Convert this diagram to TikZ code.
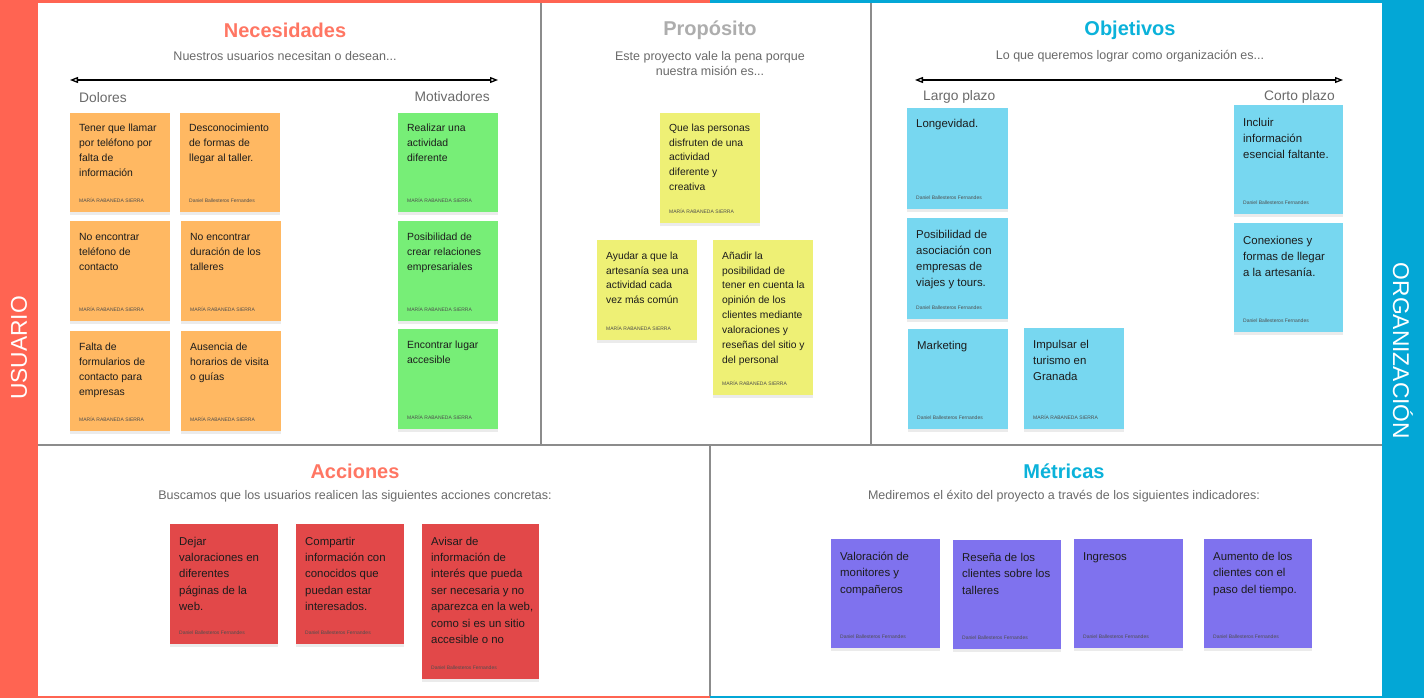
\documentclass[tikz,border=0pt]{standalone}
\usepackage{fontspec}
\setmainfont{Liberation Sans}
\usetikzlibrary{arrows.meta,shadows}
\definecolor{usred}{HTML}{FF6452}
\definecolor{titlered}{HTML}{FF7663}
\definecolor{orgblue}{HTML}{03A7D6}
\definecolor{titleblue}{HTML}{0BB2DA}
\definecolor{titlegray}{HTML}{ADADAD}
\definecolor{subgray}{HTML}{6A6A6A}
\definecolor{divgray}{HTML}{8C8C8C}
\definecolor{cOrange}{HTML}{FFB862}
\definecolor{cGreen}{HTML}{77EE77}
\definecolor{cYellow}{HTML}{EEF075}
\definecolor{cBlue}{HTML}{77D7F0}
\definecolor{cRed}{HTML}{E24849}
\definecolor{cPurple}{HTML}{7F72EE}
\definecolor{ink}{HTML}{1C1C1C}
\definecolor{footgray}{HTML}{4E4E4E}
\tikzset{
  cardbox/.style={inner sep=0pt, draw=none, drop shadow={shadow xshift=0pt, shadow yshift=-2.5pt, opacity=0.08, fill=black}},
  card-o/.style={fill=cOrange}, card-g/.style={fill=cGreen}, card-y/.style={fill=cYellow},
  card-b/.style={fill=cBlue}, card-r/.style={fill=cRed}, card-p/.style={fill=cPurple},
  cardtext/.style={inner sep=0pt, align=left, text=ink},
  text-o/.style={font={\fontsize{10.4}{15}\selectfont}},
  text-g/.style={font={\fontsize{10.4}{15}\selectfont}},
  text-y/.style={font={\fontsize{10.3}{14.9}\selectfont}},
  text-b/.style={font={\fontsize{11.4}{16}\selectfont}},
  text-r/.style={font={\fontsize{11.4}{16.4}\selectfont}},
  text-p/.style={font={\fontsize{11.4}{16.5}\selectfont}},
  footer/.style={inner sep=0pt, text=footgray, font={\fontsize{5}{6}\selectfont}},
  title/.style={font={\fontsize{20}{24}\selectfont\bfseries}},
  subtitle/.style={text=subgray, align=center, font={\fontsize{12.5}{15}\selectfont}},
  sidelabel/.style={inner sep=0pt, text=subgray, font={\fontsize{13.8}{16}\selectfont}},
  bandlabel/.style={text=white, font={\fontsize{22.8}{26}\selectfont}},
  divider/.style={draw=divgray, line width=1.5pt},
  axis/.style={line width=1.3pt, {Triangle[open,length=8pt,width=6pt]}-{Triangle[open,length=8pt,width=6pt]}}
}
\newcommand\sticky[9]{%
  \node[cardbox, card-#6, anchor=north west, minimum width=#4pt, minimum height=#5pt] (#1) at (#2,#3) {};
  \node[cardtext, text-#6, anchor=north west] (#1-t) at ([xshift=9pt,yshift={(5.6-#7)*1pt}]#1.north west) {\rule{0pt}{8.5pt}#8};
  \node[footer, anchor=west] (#1-f) at ([xshift=9pt,yshift=12pt]#1.south west) {#9};
}
\begin{document}
\begin{tikzpicture}[x=1pt,y=-1pt]
\useasboundingbox (0,0) rectangle (1424,698);
\fill[white] (0,0) rectangle (1424,698);
% bands and borders
\fill[usred] (0,0) rectangle (38,698);
\fill[orgblue] (1382,0) rectangle (1424,698);
\fill[usred] (38,0) rectangle (710,3);
\fill[orgblue] (710,0) rectangle (1382,3);
\fill[usred] (38,695.5) rectangle (710,698);
\fill[orgblue] (710,695.5) rectangle (1382,698);
\node[bandlabel, rotate=90] (usuario) at (19,348) {USUARIO};
\node[bandlabel, rotate=-90] (organizacion) at (1403,351) {ORGANIZACIÓN};
% dividers
\coordinate (d1a) at (541,3); \coordinate (d1b) at (541,445);
\coordinate (d2a) at (871,3); \coordinate (d2b) at (871,445);
\coordinate (h1a) at (38,445); \coordinate (h1b) at (1382,445);
\coordinate (d3a) at (710,445); \coordinate (d3b) at (710,695.5);
\draw[divider] (d1a) -- (d1b);
\draw[divider] (d2a) -- (d2b);
\draw[divider] (h1a) -- (h1b);
\draw[divider] (d3a) -- (d3b);
% Necesidades
\node[title, text=titlered] (tnec) at (285,30) {Necesidades};
\node[subtitle] (snec) at (285,56) {Nuestros usuarios necesitan o desean...};
\coordinate (anl) at (70,80); \coordinate (anr) at (498,80);
\draw[axis] (anl) -- (anr);
\node[sidelabel, anchor=west] (dolores) at (79,98) {Dolores};
\node[sidelabel, anchor=east] (motiv) at (490,97) {Motivadores};
\sticky{o1}{70}{113}{100}{99}{o}{15}{Tener que llamar\\por teléfono por\\falta de\\información}{MARÍA RABANEDA SIERRA}
\sticky{o2}{180}{113}{100}{99}{o}{15}{Desconocimiento\\de formas de\\llegar al taller.}{Daniel Ballesteros Fernandes}
\sticky{o3}{70}{221}{100}{100}{o}{16}{No encontrar\\teléfono de\\contacto}{MARÍA RABANEDA SIERRA}
\sticky{o4}{181}{221}{100}{100}{o}{16}{No encontrar\\duración de los\\talleres}{MARÍA RABANEDA SIERRA}
\sticky{o5}{70}{331}{100}{100}{o}{16}{Falta de\\formularios de\\contacto para\\empresas}{MARÍA RABANEDA SIERRA}
\sticky{o6}{181}{331}{100}{100}{o}{16}{Ausencia de\\horarios de visita\\o guías}{MARÍA RABANEDA SIERRA}
\sticky{g1}{398}{113}{100}{99}{g}{15}{Realizar una\\actividad\\diferente}{MARÍA RABANEDA SIERRA}
\sticky{g2}{398}{221}{100}{100}{g}{16}{Posibilidad de\\crear relaciones\\empresariales}{MARÍA RABANEDA SIERRA}
\sticky{g3}{398}{329}{100}{100}{g}{16}{Encontrar lugar\\accesible}{MARÍA RABANEDA SIERRA}
% Proposito
\node[title, text=titlegray] (tpro) at (710,30) {Propósito};
\node[subtitle] (spro) at (710,63.5) {Este proyecto vale la pena porque\\nuestra misión es...};
\sticky{y1}{660}{113}{100}{110}{y}{15}{Que las personas\\disfruten de una\\actividad\\diferente y\\creativa}{MARÍA RABANEDA SIERRA}
\sticky{y2}{597}{240}{100}{100}{y}{16}{Ayudar a que la\\artesanía sea una\\actividad cada\\vez más común}{MARÍA RABANEDA SIERRA}
\sticky{y3}{713}{240}{100}{155}{y}{16}{Añadir la\\posibilidad de\\tener en cuenta la\\opinión de los\\clientes mediante\\valoraciones y\\reseñas del sitio y\\del personal}{MARÍA RABANEDA SIERRA}
% Objetivos
\node[title, text=titleblue] (tobj) at (1130,30) {Objetivos};
\node[subtitle] (sobj) at (1130,56) {Lo que queremos lograr como organización es...};
\coordinate (bnl) at (915,80); \coordinate (bnr) at (1343,80);
\draw[axis] (bnl) -- (bnr);
\node[sidelabel, anchor=west] (largo) at (923,97) {Largo plazo};
\node[sidelabel, anchor=east] (corto) at (1335,97) {Corto plazo};
\sticky{b1}{907}{108}{101}{101}{b}{16}{Longevidad.}{Daniel Ballesteros Fernandes}
\sticky{b2}{1234}{105}{109}{109}{b}{18}{Incluir\\información\\esencial faltante.}{Daniel Ballesteros Fernandes}
\sticky{b3}{907}{218}{101}{101}{b}{17}{Posibilidad de\\asociación con\\empresas de\\viajes y tours.}{Daniel Ballesteros Fernandes}
\sticky{b4}{1234}{223}{109}{109}{b}{18}{Conexiones y\\formas de llegar\\a la artesanía.}{Daniel Ballesteros Fernandes}
\sticky{b5}{908}{329}{100}{100}{b}{17}{Marketing}{Daniel Ballesteros Fernandes}
\sticky{b6}{1024}{328}{100}{101}{b}{17}{Impulsar el\\turismo en\\Granada}{MARÍA RABANEDA SIERRA}
% Acciones
\node[title, text=titlered] (tacc) at (355,471) {Acciones};
\node[subtitle] (sacc) at (355,496) {Buscamos que los usuarios realicen las siguientes acciones concretas:};
\sticky{r1}{170}{524}{108}{120}{r}{18}{Dejar\\valoraciones en\\diferentes\\páginas de la\\web.}{Daniel Ballesteros Fernandes}
\sticky{r2}{296}{524}{108}{120}{r}{18}{Compartir\\información con\\conocidos que\\puedan estar\\interesados.}{Daniel Ballesteros Fernandes}
\sticky{r3}{422}{524}{117}{155}{r}{18}{Avisar de\\información de\\interés que pueda\\ser necesaria y no\\aparezca en la web,\\como si es un sitio\\accesible o no}{Daniel Ballesteros Fernandes}
% Metricas
\node[title, text=titleblue] (tmet) at (1064,471) {Métricas};
\node[subtitle] (smet) at (1064,496) {Mediremos el éxito del proyecto a través de los siguientes indicadores:};
\sticky{p1}{831}{539}{109}{109}{p}{18}{Valoración de\\monitores y\\compañeros}{Daniel Ballesteros Fernandes}
\sticky{p2}{953}{540}{108}{109}{p}{18}{Reseña de los\\clientes sobre los\\talleres}{Daniel Ballesteros Fernandes}
\sticky{p3}{1074}{539}{109}{109}{p}{18}{Ingresos}{Daniel Ballesteros Fernandes}
\sticky{p4}{1204}{539}{108}{109}{p}{18}{Aumento de los\\clientes con el\\paso del tiempo.}{Daniel Ballesteros Fernandes}
\end{tikzpicture}
\end{document}
